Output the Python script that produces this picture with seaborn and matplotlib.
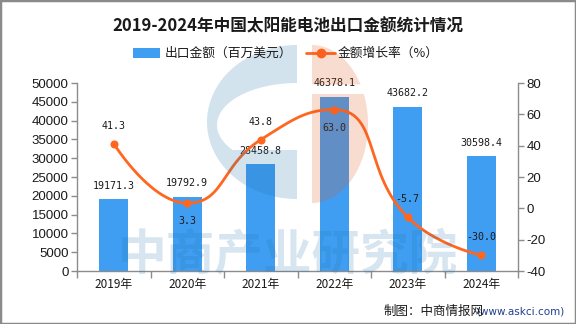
import numpy as np
import pandas as pd
import matplotlib
matplotlib.use("Agg")
import matplotlib.pyplot as plt
import seaborn as sns
from matplotlib.patches import Rectangle, PathPatch
from matplotlib.path import Path
from matplotlib.lines import Line2D

# ---------------- data ----------------
years = ["2019年", "2020年", "2021年", "2022年", "2023年", "2024年"]
export_value = [19171.3, 19792.9, 28458.8, 46378.1, 43682.2, 30598.4]
growth_rate = [41.3, 3.3, 43.8, 63.0, -5.7, -30.0]
left_ticks = [0, 5000, 10000, 15000, 20000, 25000, 30000, 35000, 40000, 45000, 50000]
right_ticks = [-40, -20, 0, 20, 40, 60, 80]
rate_label_below = [False, True, False, True, False, False]

title = "2019-2024年中国太阳能电池出口金额统计情况"
bar_name = "出口金额（百万美元）"
line_name = "金额增长率（%）"
source_cn = "制图：中商情报网"
source_url = "(www.askci.com)"
watermark = "中商产业研究院"

BAR = "#409EF2"
LINE = "#FF6620"
AXIS = "#8c8c8c"
TXT = "#1a1a1a"

sns.set_theme(style="white")
plt.rcParams["font.family"] = ["Noto Sans CJK SC", "DejaVu Sans"]

W, H = 576, 324
fig = plt.figure(figsize=(W / 100, H / 100), dpi=100)
fig.patch.set_facecolor("white")


def fx(x):
    return x / W


def fy(y):
    return 1 - y / H


L, R, T, B = 77, 518, 83, 271
ax = fig.add_axes([fx(L), fy(B), fx(R) - fx(L), fy(T) - fy(B)])
df = pd.DataFrame({"year": years, "value": export_value, "rate": growth_rate})
sns.barplot(data=df, x="year", y="value", color=BAR, width=0.4, saturation=1,
            linewidth=0, ax=ax)
ax.set_xlim(-0.5, len(years) - 0.5)
ax.set_ylim(left_ticks[0], left_ticks[-1])
ax.set_yticks(left_ticks)
ax.set_yticklabels([str(t) for t in left_ticks], fontfamily="Liberation Sans", fontsize=9.5)
ax.set_xlabel("")
ax.set_ylabel("")

for i, v in enumerate(export_value):
    ax.annotate(f"{v:.1f}", (i, v), xytext=(0, 6), textcoords="offset points",
                ha="center", va="bottom", fontfamily="DejaVu Sans Mono",
                fontsize=7.2, color=TXT)

ax2 = ax.twinx()
ax2.set_ylim(right_ticks[0], right_ticks[-1])

# ---- ECharts-like smoothing (in pixel-space proportions) ----
sx = (R - L) / len(years)
sy = (B - T) / (right_ticks[-1] - right_ticks[0])
px = [i * sx for i in range(len(years))]
py = [v * sy for v in growth_rate]
smooth = 0.5
n = len(px)
segs = []
cpx0, cpy0 = px[0], py[0]
for k in range(1, n):
    x, y = px[k], py[k]
    prevX, prevY = px[k - 1], py[k - 1]
    if k == n - 1:
        cpx1, cpy1 = x, y
        nextCpx0, nextCpy0 = x, y
    else:
        nextX, nextY = px[k + 1], py[k + 1]
        vx, vy = (nextX - prevX) * smooth, (nextY - prevY) * smooth
        lenPrev = np.hypot(x - prevX, y - prevY)
        lenNext = np.hypot(nextX - x, nextY - y)
        ratio = lenNext / (lenNext + lenPrev)
        nextCpx0 = x + vx * ratio
        nextCpy0 = y + vy * ratio
        nextCpx0 = min(nextCpx0, max(nextX, x)); nextCpy0 = min(nextCpy0, max(nextY, y))
        nextCpx0 = max(nextCpx0, min(nextX, x)); nextCpy0 = max(nextCpy0, min(nextY, y))
        vx, vy = nextCpx0 - x, nextCpy0 - y
        cpx1 = x - vx * lenPrev / lenNext
        cpy1 = y - vy * lenPrev / lenNext
        cpx1 = min(cpx1, max(prevX, x)); cpy1 = min(cpy1, max(prevY, y))
        cpx1 = max(cpx1, min(prevX, x)); cpy1 = max(cpy1, min(prevY, y))
        vx, vy = x - cpx1, y - cpy1
        nextCpx0 = x + vx * lenNext / lenPrev
        nextCpy0 = y + vy * lenNext / lenPrev
    segs.append(((prevX, prevY), (cpx0, cpy0), (cpx1, cpy1), (x, y)))
    cpx0, cpy0 = nextCpx0, nextCpy0

t = np.linspace(0, 1, 60)
cx, cy = [], []
for p0, p1, p2, p3 in segs:
    bx = (1 - t) ** 3 * p0[0] + 3 * (1 - t) ** 2 * t * p1[0] + 3 * (1 - t) * t ** 2 * p2[0] + t ** 3 * p3[0]
    by = (1 - t) ** 3 * p0[1] + 3 * (1 - t) ** 2 * t * p1[1] + 3 * (1 - t) * t ** 2 * p2[1] + t ** 3 * p3[1]
    cx.extend(bx / sx)
    cy.extend(by / sy)
curve = pd.DataFrame({"x": cx, "y": cy})
sns.lineplot(data=curve, x="x", y="y", sort=False, estimator=None, color=LINE,
             linewidth=2.0, ax=ax2)
sns.scatterplot(x=list(range(len(years))), y=growth_rate, color=LINE, edgecolor=LINE,
                s=34, linewidth=0, zorder=5, ax=ax2)
for i, v in enumerate(growth_rate):
    off = -13 if rate_label_below[i] else 13
    ax2.annotate(f"{v:.1f}", (i, v), xytext=(0, off), textcoords="offset points",
                 ha="center", va="center", fontfamily="DejaVu Sans Mono",
                 fontsize=7.2, color=TXT, zorder=6)

ax2.set_yticks(right_ticks)
ax2.set_yticklabels([str(t) for t in right_ticks], fontfamily="Liberation Sans", fontsize=9.5)
ax2.set_xlabel("")
ax2.set_ylabel("")

# axes styling
ax.set_xlim(-0.5, len(years) - 0.5)
ax.set_xticks(range(len(years)))
ax.set_xticklabels(years, fontsize=8.5, color=TXT)
ax.set_xticks(np.arange(-0.5, len(years), 1.0), minor=True)
ax.tick_params(axis="x", which="major", length=0, pad=5)
ax.tick_params(axis="x", which="minor", length=5, width=1, color=AXIS, direction="out", bottom=True)
ax.tick_params(axis="y", length=4, width=1, color=AXIS, pad=2, labelcolor=TXT, left=True)
ax2.tick_params(axis="y", length=4, width=1, color=AXIS, pad=2, labelcolor=TXT, right=True)
for s in ["top", "right"]:
    ax.spines[s].set_visible(False)
for s in ["left", "bottom"]:
    ax.spines[s].set_color(AXIS)
    ax.spines[s].set_linewidth(1)
for s in ["top", "left", "bottom"]:
    ax2.spines[s].set_visible(False)
ax2.spines["right"].set_color(AXIS)
ax2.spines["right"].set_linewidth(1)
ax.grid(False)
ax2.grid(False)
if ax2.get_legend():
    ax2.get_legend().remove()

# title & legend
fig.text(fx(288), fy(27), title, ha="center", va="center", fontsize=12,
         fontweight="bold", color=TXT)
fig.add_artist(Rectangle((fx(133), fy(58)), fx(160) - fx(133), fy(48) - fy(58),
                         transform=fig.transFigure, facecolor=BAR, edgecolor="none"))
fig.text(fx(165), fy(53), bar_name, ha="left", va="center", fontsize=9.2, color=TXT)
fig.add_artist(Line2D([fx(306), fx(335)], [fy(53), fy(53)], transform=fig.transFigure,
                      color=LINE, linewidth=2.0))
fig.add_artist(Line2D([fx(320.5)], [fy(53)], transform=fig.transFigure, marker="o",
                      markersize=6, color=LINE, linewidth=0))
fig.text(fx(338), fy(53), line_name, ha="left", va="center", fontsize=9.2, color=TXT)

# source
fig.text(fx(564), fy(311), source_url, ha="right", va="center", fontsize=7.5,
         fontfamily="DejaVu Sans", color="#1F3F8F")
fig.text(fx(484), fy(311), source_cn, ha="right", va="center", fontsize=9, color=TXT)

# watermark logo
WB = "#1E73AA"
WO = "#E15014"


def make_patch(pts, holes=(), color=WB, alpha=0.2):
    verts, codes = [], []
    for poly, rev in [(pts, False)] + [(h, True) for h in holes]:
        p = poly[::-1] if rev else poly
        verts += [(fx(a), fy(b)) for a, b in p] + [(fx(p[0][0]), fy(p[0][1]))]
        codes += [Path.MOVETO] + [Path.LINETO] * (len(p) - 1) + [Path.CLOSEPOLY]
    patch = PathPatch(Path(verts, codes), transform=fig.transFigure,
                      facecolor=color, edgecolor="none", alpha=alpha, zorder=2)
    fig.add_artist(patch)


th = np.radians(np.linspace(90, 270, 80))
outer = [(297 + 90 * np.cos(a), 122 - 77 * np.sin(a)) for a in th]
th2 = np.radians(np.linspace(90, 216.5, 60))
hole = [(297 + 80 * np.cos(a), 125 - 42 * np.sin(a)) for a in th2] + [(297, 150)]
make_patch(outer, [hole], WB)

th3 = np.radians(np.linspace(90, 30, 40))
up = [(312 + 56 * np.cos(a), 124 - 79 * np.sin(a)) for a in th3] + [(312, 124 - 79 * 0.5)]
make_patch(up, [], WO)
a0 = np.degrees(np.arcsin((124 - 94) / 79))
th4 = np.radians(np.linspace(a0, -90, 60))
low = [(312 + 56 * np.cos(a), 124 - 79 * np.sin(a)) for a in th4] + [(312, 94)]
make_patch(low, [], WO)

fig.text(fx(288), fy(256), watermark, ha="center", va="center", fontsize=35,
         fontweight="bold", color=WB, alpha=0.18, zorder=2)

# border
fig.add_artist(Rectangle((0, 0), 1, 1, transform=fig.transFigure, facecolor="none",
                         edgecolor="#8a8a8a", linewidth=2.5, zorder=10))

fig.savefig("out.png", dpi=100, facecolor="white")
